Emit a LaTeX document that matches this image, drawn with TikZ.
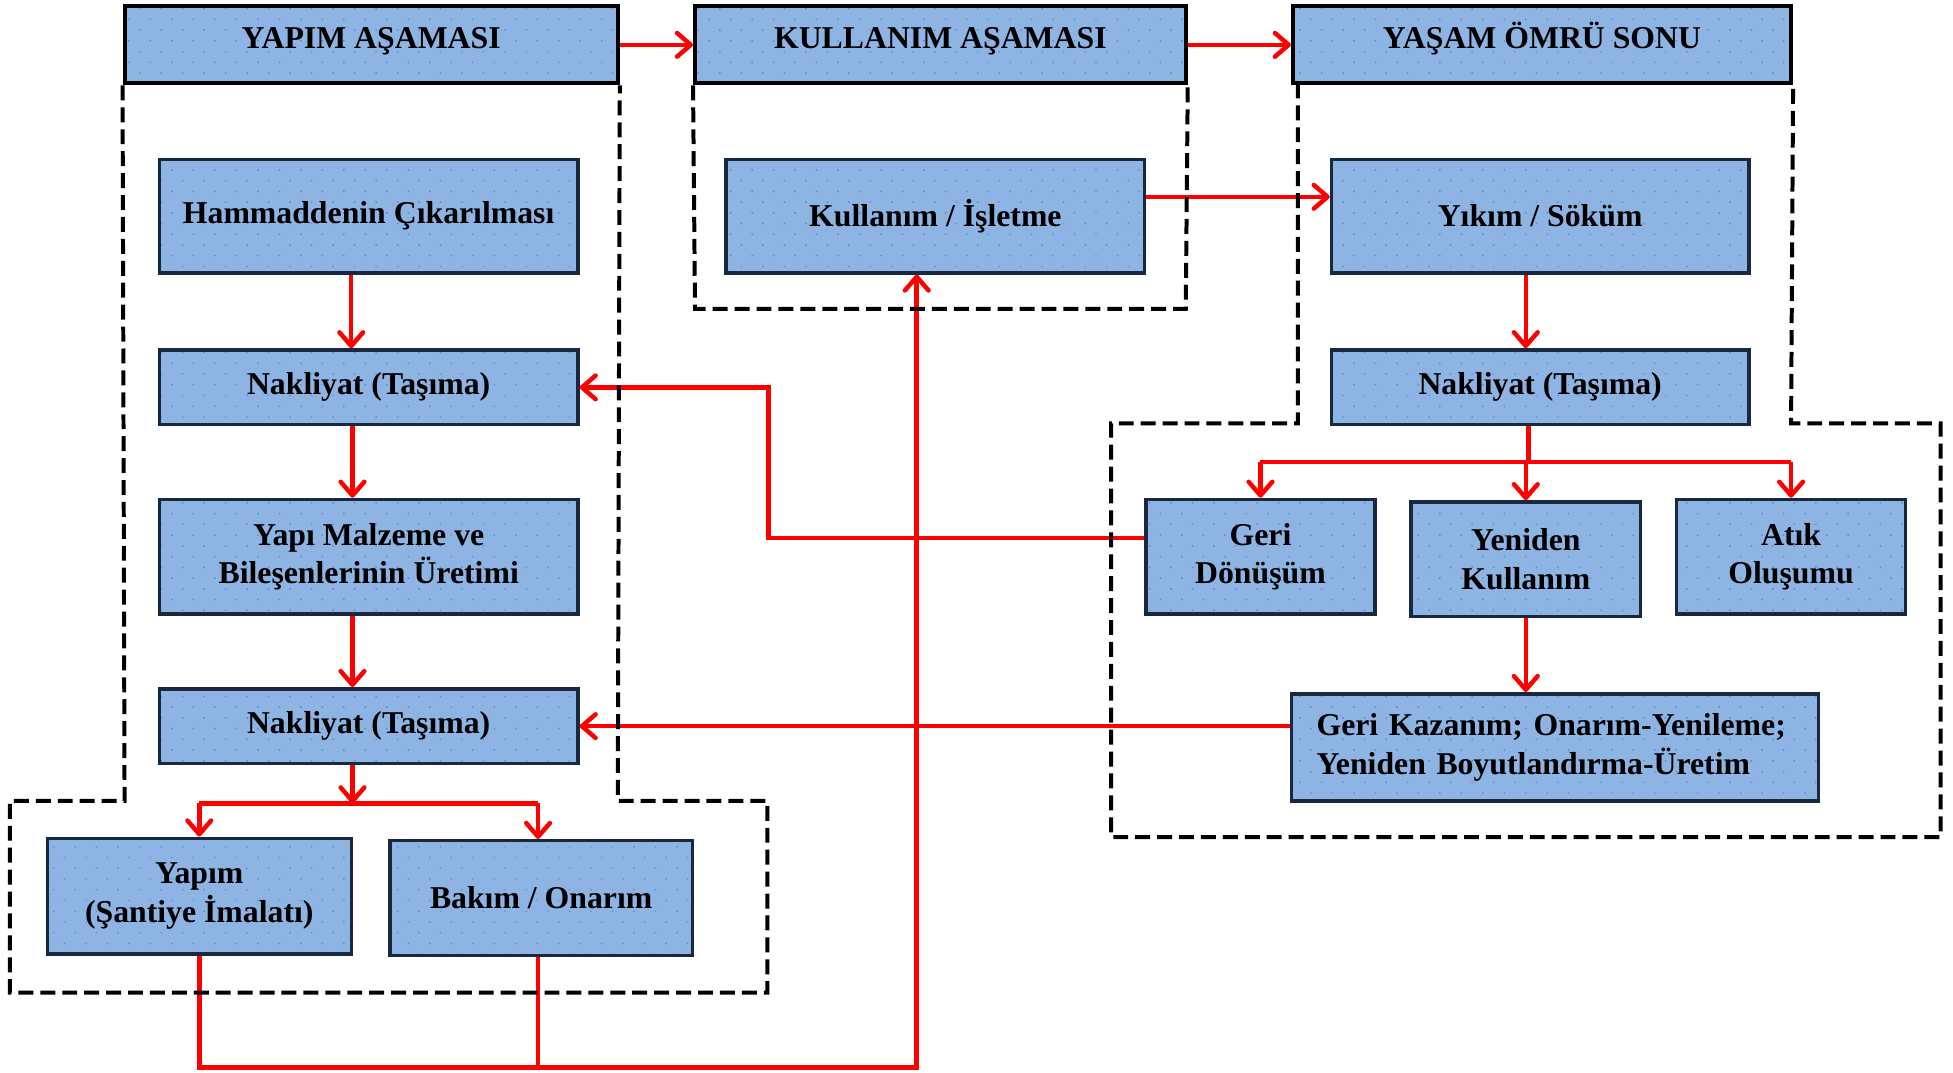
\documentclass[tikz,border=0pt]{standalone}
\usepackage{fontspec}
\setmainfont{Liberation Serif}
\usetikzlibrary{arrows.meta,patterns.meta}
\definecolor{boxblue}{HTML}{8EB4E3}
\definecolor{dotblue}{HTML}{5B8DD6}
\definecolor{boxline}{HTML}{17283F}
\frenchspacing
\begin{document}
\begin{tikzpicture}[x=1pt,y=-1pt,
  box/.style={draw=boxline, line width=2.8pt, preaction={fill=boxblue},
    pattern={Dots[distance=12.2pt,angle=45,radius=0.8pt]}, pattern color=dotblue,
    inner sep=0pt, align=center,
    font=\bfseries\fontsize{25.5}{31}\selectfont},
  hdr/.style={box, draw=black, line width=3.2pt, minimum height=62pt,
    text height=17pt, text depth=11pt},
  link/.style={draw=red, line width=3.6pt},
  flow/.style={link, -{Straight Barb[length=11pt,width=19pt,round]}},
  zone/.style={draw=black, line width=3.2pt, dash pattern=on 12pt off 5.6pt}]
\useasboundingbox (0,0) rectangle (1568,861);

% stage headers
\node[hdr, minimum width=396pt] (h1) at (298,36) {YAPIM AŞAMASI};
\node[hdr, minimum width=394pt] (h2) at (755,36) {KULLANIM AŞAMASI};
\node[hdr, minimum width=400pt] (h3) at (1238,36) {YAŞAM ÖMRÜ SONU};

% construction stage
\node[box, minimum width=336pt, minimum height=91pt] (b1) at (296,173.5) {Hammaddenin Çıkarılması};
\node[box, minimum width=336pt, minimum height=60pt] (b2) at (296,311) {Nakliyat (Taşıma)};
\node[box, minimum width=336pt, minimum height=92pt] (b3) at (296,447) {Yapı Malzeme ve\\Bileşenlerinin Üretimi};
\node[box, minimum width=336pt, minimum height=60pt] (b4) at (296,583) {Nakliyat (Taşıma)};
\node[box, minimum width=244pt, minimum height=93pt] (b5) at (160,719.5) {Yapım\\(Şantiye İmalatı)};
\node[box, minimum width=243pt, minimum height=92pt] (b6) at (434.5,721) {Bakım / Onarım};

% use stage
\node[box, minimum width=336pt, minimum height=91pt] (m1) at (751,173.5) {Kullanım / İşletme};

% end of life
\node[box, minimum width=335pt, minimum height=91pt] (r1) at (1236.5,173.5) {Yıkım / Söküm};
\node[box, minimum width=335pt, minimum height=60pt] (r2) at (1236.5,311) {Nakliyat (Taşıma)};
\node[box, minimum width=184pt, minimum height=92pt] (r3) at (1012,447) {Geri\\Dönüşüm};
\node[box, minimum width=184pt, minimum height=92pt] (r4) at (1225,449) {Yeniden\\Kullanım};
\node[box, minimum width=184pt, minimum height=92pt] (r5) at (1438,447) {Atık\\Oluşumu};
\node[box, minimum width=423pt, minimum height=86pt, text width=383pt, align=left] (r6) at (1248.5,600)
  {Geri Kazanım; Onarım-Yenileme;\\Yeniden Boyutlandırma-Üretim};

% junction and turning points
\coordinate (splitL) at (283,645);
\coordinate (splitR) at (1227,371);
\coordinate (loopR) at (736,857);
\coordinate (turnA) at (617,432);

% stage sequence
\draw[flow] (h1.east) -- (h2.west);
\draw[flow] (h2.east) -- (h3.west);

% construction chain
\draw[flow] ([xshift=-14pt]b1.south) -- ([xshift=-14pt]b2.north);
\draw[flow] ([xshift=-13pt]b2.south) -- ([xshift=-13pt]b3.north);
\draw[flow] ([xshift=-13pt]b3.south) -- ([xshift=-13pt]b4.north);
\draw[flow] ([xshift=-13pt]b4.south) -- (splitL);
\draw[link] (splitL -| b5.north) -- ([xshift=-2.5pt]splitL -| b6.north);
\draw[flow] (splitL -| b5.north) -- (b5.north);
\draw[flow] ([xshift=-2.5pt]splitL -| b6.north) -- ([xshift=-2.5pt]b6.north);

% return to use stage
\draw[flow] (b5.south) |- (loopR) -- (loopR |- m1.south);
\draw[link] ([xshift=-2.5pt]b6.south) -- ([xshift=-2.5pt]b6.south |- loopR);

% use to end of life
\draw[flow] ([yshift=15.5pt]m1.east) -- ([yshift=15.5pt]r1.west);
\draw[flow] ([xshift=-11.5pt]r1.south) -- ([xshift=-11.5pt]r2.north);
\draw[link] ([xshift=-9.5pt]r2.south) -- (splitR);
\draw[link] (splitR -| r3.north) -- (splitR -| r5.north);
\draw[flow] (splitR -| r3.north) -- (r3.north);
\draw[flow] (splitR -| r4.north) -- (r4.north);
\draw[flow] (splitR -| r5.north) -- (r5.north);
\draw[flow] (r4.south) -- (r4.south |- r6.north);

% feedback into construction
\draw[flow] ([yshift=15pt]r3.west) -- (turnA) |- (b2.east);
\draw[flow] (r6.west |- b4.east) -- (b4.east);

% stage boundaries
\draw[zone] (h1.south west) -- (100,643) -- (8,643) -- (8,797) -- (616,797)
  -- (616,643) -- (496,643) -- (h1.south east);
\draw[zone] (h2.south west) -- (558,248) -- (952,248) -- (h2.south east);
\draw[zone] (1042,67) -- (1042,340) -- (892,340) -- (892,672) -- (1558,672)
  -- (1558,340) -- (1438,340) -- (h3.south east);
\end{tikzpicture}
\end{document}
